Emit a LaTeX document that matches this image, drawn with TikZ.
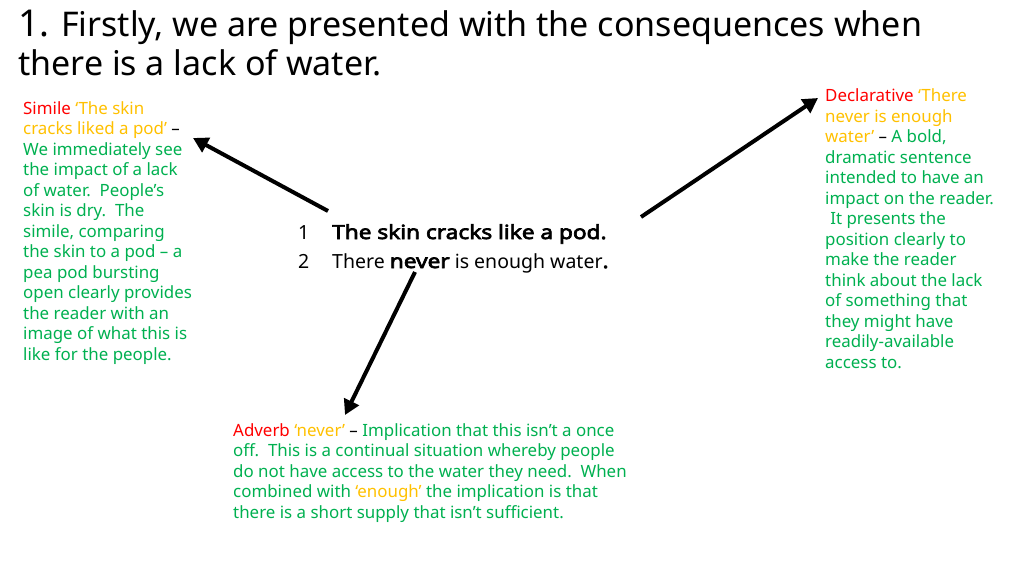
\documentclass[tikz,border=0pt]{standalone}
\usepackage{fontspec}
\setmainfont{Noto Sans}
\newfontfamily\boldlines{Noto Sans}[FakeBold = 3.5, FakeStretch = 1.16]
\usetikzlibrary{arrows.meta}
\definecolor{termred}{HTML}{FF0000}
\definecolor{quotegold}{HTML}{FFC000}
\definecolor{notegreen}{HTML}{00B050}
\newcommand{\term}[1]{\textcolor{termred}{#1}}
\newcommand{\quoted}[1]{\textcolor{quotegold}{#1}}
\newcommand{\dash}{\textcolor{black}{–}}
\newcommand{\poembold}[1]{{\boldlines #1}}
\tikzset{
  note/.style = {anchor = north west, inner sep = 0pt, align = left,
                 text = notegreen, font = \fontsize{16.9}{20.5}\selectfont},
  pointer/.style = {-{Triangle[length = 15pt, width = 16pt]},
                    line width = 4pt}
}

\begin{document}
\begin{tikzpicture}[x = 1pt, y = -1pt]
\useasboundingbox (0, 0) rectangle (1024, 575);

% heading
\node[anchor = north west, inner sep = 0pt, align = left,
      font = \fontsize{34}{39}\selectfont] (title) at (18, 10)
      {{\fontsize{37}{39}\selectfont 1.} Firstly, we are presented with the consequences when\\
       there is a lack of water.};

% the two lines of the poem
\node[anchor = north west, inner sep = 0pt, align = left,
      font = \fontsize{19.5}{29}\selectfont] (poem) at (298, 224)
      {\makebox[34pt][l]{1}\poembold{The skin cracks like a pod.}\\
       \makebox[34pt][l]{2}There \poembold{never} is enough water\poembold{.}};

% notes
\node[note] (simile) at (23, 101)
      {\term{Simile} \quoted{‘The skin}\\
       \quoted{cracks liked a pod’} \dash\\
       We immediately see\\
       the impact of a lack\\
       of water.\ \ People’s\\
       skin is dry.\ \ The\\
       simile, comparing\\
       the skin to a pod – a\\
       pea pod bursting\\
       open clearly provides\\
       the reader with an\\
       image of what this is\\
       like for the people.};

\node[note] (declarative) at (825, 88.5)
      {\term{Declarative} \quoted{‘There}\\
       \quoted{never is enough}\\
       \quoted{water’} \dash{} A bold,\\
       dramatic sentence\\
       intended to have an\\
       impact on the reader.\\
       \hspace{0.3em}It presents the\\
       position clearly to\\
       make the reader\\
       think about the lack\\
       of something that\\
       they might have\\
       readily-available\\
       access to.};

\node[note] (adverb) at (233, 423)
      {\term{Adverb} \quoted{‘never’} \dash{} Implication that this isn’t a once\\
       off.\ \ This is a continual situation whereby people\\
       do not have access to the water they need.\ \ When\\
       combined with \quoted{‘enough’} the implication is that\\
       there is a short supply that isn’t sufficient.};

% arrows
\coordinate (simile tip) at (193, 138);
\coordinate (declarative tip) at (818, 98);
\coordinate (adverb tip) at (345, 415);
\coordinate (simile tail) at (328, 211);
\coordinate (declarative tail) at (641, 217);
\coordinate (adverb tail) at (415, 272);

\draw[pointer] (simile tail) -- (simile tip);
\draw[pointer] (declarative tail) -- (declarative tip);
\draw[pointer] (adverb tail) -- (adverb tip);
\end{tikzpicture}
\end{document}
